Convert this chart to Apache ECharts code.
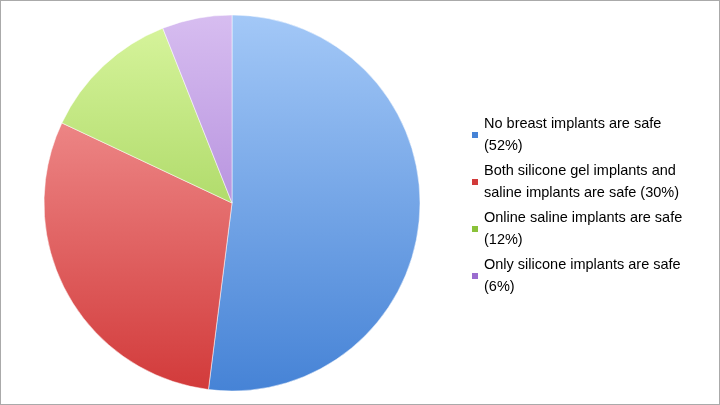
<!DOCTYPE html>
<html><head><meta charset="utf-8">
<script src="https://cdn.jsdelivr.net/npm/echarts@6/dist/echarts.min.js"></script>
<style>html,body{margin:0;padding:0;background:#fff}#c{width:720px;height:405px;box-sizing:border-box;border:1px solid #aaa}</style>
</head><body><div id="c"></div>
<script>
const labels = ["No breast implants are safe\n(52%)","Both silicone gel implants and\nsaline implants are safe (30%)","Online saline implants are safe\n(12%)","Only silicone implants are safe\n(6%)"];
const values = [52,30,12,6];
const colorsTop = ["#a3c8f7","#f7a3a3","#d8f59e","#d7bdf0"];
const colorsBot = ["#4683d6","#d23a3a","#8ac23a","#9a6ccf"];
const chart = echarts.init(document.getElementById('c'));
function grad(i){return {type:'linear',global:true,x:0,y:14,x2:0,y2:390,colorStops:[{offset:0,color:colorsTop[i]},{offset:1,color:colorsBot[i]}]};}
chart.setOption({
  animation:false,
  legend:{orient:'vertical',left:464,top:107,itemWidth:8,itemHeight:8,itemGap:3,icon:'rect',
    textStyle:{fontFamily:'Liberation Sans',fontSize:14.5,color:'#000',lineHeight:22},
    data:labels.map((n,i)=>({name:n,itemStyle:{color:colorsBot[i]}}))},
  series:[{type:'pie',center:[231,202],radius:[0,188],startAngle:90,clockwise:true,label:{show:false},labelLine:{show:false},
    itemStyle:{borderColor:'#fff',borderWidth:0.5},
    data:values.map((v,i)=>({name:labels[i],value:v,itemStyle:{color:grad(i)}}))}]
});
</script></body></html>
